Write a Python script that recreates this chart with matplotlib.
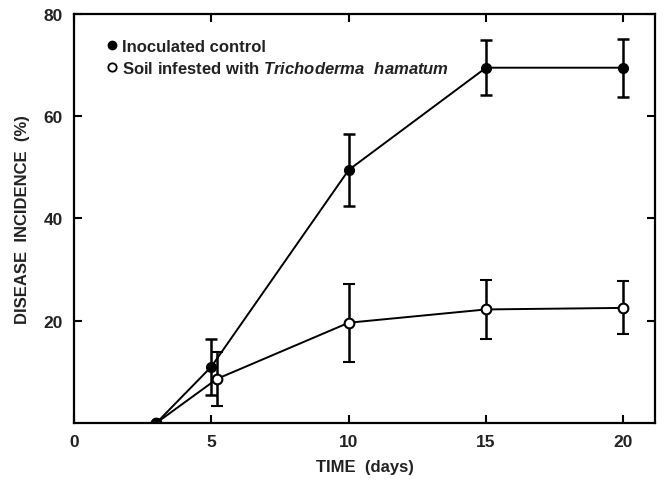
import matplotlib
matplotlib.use("Agg")
import matplotlib.pyplot as plt
from matplotlib.lines import Line2D

# Data
days_control = [3, 5, 10, 15, 20]
control = [0, 11, 49.5, 69.5, 69.5]
control_err = [0, 5.5, 7.0, 5.4, 5.7]

days_tricho = [3, 5.2, 10, 15, 20]
tricho = [0, 8.6, 19.6, 22.2, 22.5]
tricho_err = [0, 5.3, 7.6, 5.7, 5.2]

xticks = [0, 5, 10, 15, 20]
xticklabels = ["0", "5", "10", "15", "20"]
yticks = [20, 40, 60, 80]
yticklabels = ["20", "40", "60", "80"]

plt.rcParams['font.family'] = ['Liberation Sans', 'DejaVu Sans']
plt.rcParams['mathtext.fontset'] = 'custom'
plt.rcParams['mathtext.it'] = 'Liberation Sans:italic:bold'
plt.rcParams['mathtext.rm'] = 'Liberation Sans:bold'
plt.rcParams['mathtext.bf'] = 'Liberation Sans:bold'

fig = plt.figure(figsize=(6.67, 4.85), dpi=100)
ax = fig.add_axes([0.111, 0.126, 0.871, 0.843])

lw = 1.4
ax.errorbar(days_tricho, tricho, yerr=tricho_err,
            fmt='o-', color='black', mfc='white', mec='black', mew=1.5, ms=7, lw=lw,
            elinewidth=1.8, capsize=4, capthick=1.8, zorder=3)
ax.errorbar(days_control, control, yerr=control_err,
            fmt='o-', color='black', mfc='black', mec='black', ms=7, lw=lw,
            elinewidth=1.8, capsize=4, capthick=1.8, zorder=4)

ax.set_xlim(0, 21.15)
ax.set_ylim(0, 80)
ax.set_xticks(xticks)
ax.set_xticklabels(xticklabels)
ax.set_yticks(yticks)
ax.set_yticklabels(yticklabels)
ax.tick_params(direction='in', top=True, right=True, length=6, width=1.5,
               labelsize=12.5, pad=8)
for s in ax.spines.values():
    s.set_linewidth(1.6)
for lab in ax.get_xticklabels() + ax.get_yticklabels():
    lab.set_fontweight('bold')
    lab.set_color('#222222')

ax.set_xlabel("TIME  (days)", fontsize=12, fontweight='bold', labelpad=7, color='#222222')
ax.set_ylabel("DISEASE  INCIDENCE  (%)", fontsize=12, fontweight='bold', labelpad=10, color='#222222')

handles = [
    Line2D([], [], marker='o', ls='none', color='black', mfc='black', ms=6),
    Line2D([], [], marker='o', ls='none', color='black', mfc='white', mew=1.3, ms=6),
]
labels = ["Inoculated control",
          "Soil infested with $\\it{Trichoderma\\ \\ hamatum}$"]
leg = ax.legend(handles, labels, loc='upper left', bbox_to_anchor=(0.025, 0.975),
                frameon=False, handletextpad=0.1, handlelength=1.0,
                labelspacing=0.35, prop={'size': 12, 'weight': 'bold'})
for t in leg.get_texts():
    t.set_color('#222222')

fig.savefig("out.png", dpi=100)
